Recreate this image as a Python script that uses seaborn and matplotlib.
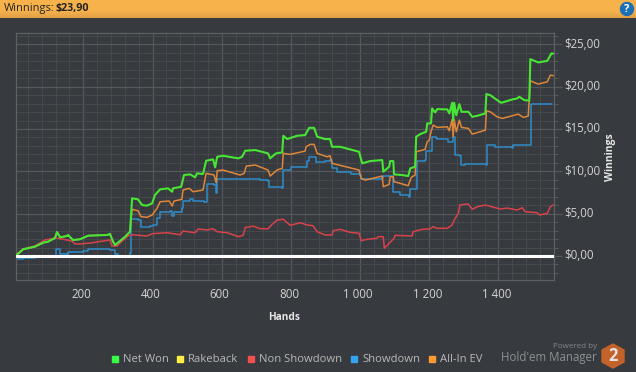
import numpy as np
import pandas as pd
import seaborn as sns
import matplotlib
matplotlib.use('Agg')
import matplotlib.pyplot as plt
from matplotlib.patches import Rectangle, Polygon, Circle
from matplotlib.transforms import ScaledTranslation

# values (hands, dollars)
won_hands = [4,11,26,60,84,98,118,124,133,153,156,170,190,214,269,277,286,292,321,335,341,358,370,384,399,407,422,445,457,459,483,491,509,523,529,546,555,575,581,587,604,648,659,668,697,734,740,757,775,778,789,818,841,853,867,876,899,913,919,942,997,1006,1029,1064,1067,1084,1087,1096,1098,1122,1139,1145,1159,1162,1174,1191,1194,1205,1208,1217,1223,1252,1258,1266,1269,1272,1278,1287,1293,1313,1324,1339,1362,1365,1376,1396,1408,1440,1454,1460,1475,1489,1492,1515,1541,1553,1558]
won_vals = [0,.24,.79,1.10,1.57,1.69,2.12,2.83,2.21,2.36,2.48,1.89,1.97,2.40,2.48,2.60,1.69,1.30,2.28,2.87,6.81,6.69,6.02,5.94,6.22,7.20,7.87,7.99,7.59,7.99,8.18,9.56,9.64,9.29,9.76,9.68,11.25,11.41,10.47,11.72,11.84,11.53,11.72,12.43,12.51,12.12,11.53,12.12,12.24,14.20,13.81,14.20,14.28,15.14,15.14,14.08,13.81,13.81,12.90,12.90,12.31,10.94,11.21,11.33,9.95,10.54,11.21,11.21,9.64,9.56,9.44,10.35,10.54,14.08,14.40,14.67,15.66,15.66,17.43,16.96,17.35,17.31,16.84,18.09,16.05,18.09,16.64,17.94,17.03,17.03,16.44,16.56,16.84,19.12,19.0,18.41,18.09,18.49,18.61,18.80,18.41,18.35,23.25,22.86,23.05,23.92,23.90]

rake_hands = [4,1558]
rake_vals = [0,0]

nonsd_hands = [4,11,26,60,89,104,124,167,176,190,219,277,283,298,312,329,341,384,399,442,480,488,523,532,558,575,587,616,648,662,668,691,711,734,746,760,778,798,827,847,864,876,899,919,922,942,971,997,1003,1020,1049,1052,1067,1070,1084,1098,1101,1150,1153,1179,1202,1211,1223,1252,1266,1272,1284,1289,1313,1324,1339,1362,1405,1425,1454,1469,1477,1512,1518,1541,1550,1558]
nonsd_vals = [0,.35,.83,1.18,1.89,2.0,2.12,1.77,1.42,1.42,1.53,1.89,1.18,1.18,1.77,2.36,2.51,2.36,2.63,2.75,2.51,2.95,2.75,3.19,3.07,3.22,2.87,2.75,2.28,2.44,3.34,3.54,3.22,3.22,3.74,4.25,4.33,3.62,3.93,3.66,3.58,2.87,2.48,2.48,2.99,3.15,2.80,2.68,1.81,1.97,2.09,2.28,2.28,.91,1.50,2.09,2.44,2.36,2.87,3.15,3.19,3.46,3.27,3.27,3.66,4.25,5.04,6.05,6.14,5.51,5.82,6.02,5.55,5.66,5.43,5.70,5.23,5.11,4.84,5.04,5.82,6.02]

sd_hands = [4,11,26,60,118,121,133,153,156,185,199,214,240,277,292,301,335,338,358,367,373,393,402,413,422,451,457,462,485,488,509,517,549,558,578,584,587,711,734,737,775,778,798,801,841,847,853,870,873,899,913,919,934,971,974,1000,1003,1064,1067,1093,1096,1116,1142,1145,1162,1165,1188,1191,1202,1208,1220,1223,1252,1255,1266,1269,1272,1275,1289,1293,1304,1365,1366,1391,1440,1443,1489,1495,1556]
sd_vals = [0,-.39,-.20,-.15,-.15,.79,.24,.08,.44,.51,.59,.86,.79,.67,.20,.04,.32,4.33,4.25,3.46,3.46,3.54,3.66,4.45,5.23,5.31,4.72,5.23,5.63,6.49,6.69,6.53,6.41,8.50,8.38,7.47,9.05,8.97,8.89,8.18,8.06,10.15,10.15,10.47,10.47,11.21,11.65,11.65,11.13,11.25,11.33,10.35,9.95,9.88,9.64,9.56,9.09,9.17,9.48,9.48,7.52,7.20,7.0,7.91,7.91,11.25,11.33,12.35,12.35,14.01,13.96,13.77,13.81,13.42,13.49,14.01,14.01,11.92,11.84,10.77,10.86,10.77,13.06,12.83,12.71,13.06,13.10,17.94,17.90]

ev_hands = [4,11,26,60,84,98,118,124,133,153,156,170,190,214,269,277,286,292,321,335,341,358,367,384,399,413,422,448,457,462,485,488,506,517,546,555,578,584,587,604,653,665,671,697,734,740,760,775,778,798,841,844,856,867,876,905,913,919,971,997,1003,1015,1064,1067,1084,1087,1096,1098,1116,1139,1148,1159,1162,1188,1194,1200,1205,1211,1223,1252,1258,1266,1269,1272,1278,1287,1293,1313,1324,1347,1362,1365,1376,1396,1411,1440,1457,1472,1486,1492,1515,1541,1550,1558]
ev_vals = [0,.24,.79,1.10,1.57,1.69,2.12,2.83,2.21,2.36,2.48,1.89,1.97,2.40,2.48,2.60,1.69,1.30,2.28,2.87,5.51,5.35,4.64,4.57,4.84,5.63,6.41,6.49,5.90,6.49,6.69,7.79,7.99,7.59,7.79,9.76,9.56,8.65,10.07,10.15,9.56,9.76,10.62,10.74,10.15,9.44,10.15,10.35,12.12,12.0,12.39,12.90,13.18,13.18,12.12,11.72,11.84,10.94,10.42,10.15,9.17,8.97,9.44,8.18,8.46,9.36,9.36,8.77,8.58,8.30,9.29,9.56,12.31,12.59,13.49,13.69,14.67,15.46,15.19,15.26,14.79,16.13,14.08,16.13,14.67,16.05,15.19,15.07,14.40,14.67,14.87,17.15,17.03,16.44,16.25,16.56,16.76,16.37,16.52,20.69,20.30,20.57,21.36,21.30]

x_ticks = [200,400,600,800,1000,1200,1400]
x_labels = ['200','400','600','800','1 000','1 200','1 400']
y_ticks = [0,5,10,15,20,25]
y_labels = ['$0,00','$5,00','$10,00','$15,00','$20,00','$25,00']

BG = '#373a3e'
sns.set_style('dark', {'axes.facecolor': BG, 'figure.facecolor': BG})
plt.rcParams['font.family'] = ['Open Sans', 'DejaVu Sans']

W, H = 636, 372
fig = plt.figure(figsize=(W/100, H/100), dpi=100)
ax = fig.add_axes([15.5/W, (H-280.3)/H, 538/W, 247/H])

# only showdown is a real staircase at this scale
lines = [
    (sd_hands, sd_vals, '#2f8cc9', 1.1, 'steps-post'),
    (nonsd_hands, nonsd_vals, '#d8424b', 1.1, 'default'),
    (ev_hands, ev_vals, '#df873a', 1.1, 'default'),
    (won_hands, won_vals, '#48e634', 1.5, 'default'),
    (rake_hands, rake_vals, '#f5e642', 1.1, 'default'),
]
for hands, vals, col, lw, ds in lines:
    df = pd.DataFrame({'hands': hands, 'vals': vals})
    sns.lineplot(data=df, x='hands', y='vals', color=col, lw=lw, ax=ax,
                 drawstyle=ds, estimator=None, sort=False, zorder=3)

ax.axhline(0, color='white', lw=2.2, zorder=4)

ax.set_xlim(4, 1559)
ax.set_ylim(-2.87, 26.3)
ax.set_xticks(x_ticks)
ax.set_xticklabels(x_labels)
ax.set_xticks(np.arange(40, 1559, 40), minor=True)
ax.yaxis.tick_right()
ax.set_yticks(y_ticks)
ax.set_yticklabels(y_labels)
ax.set_yticks(np.arange(-2, 27, 1), minor=True)
ax.grid(True, which='major', color='#56595c', lw=0.9, zorder=1)
ax.grid(True, which='minor', color='#46494c', lw=0.8, zorder=0)
ax.set_axisbelow(True)
ax.tick_params(axis='x', which='major', length=0, pad=5.5, labelsize=8.3, labelcolor='#d4d4d4')
ax.tick_params(axis='x', which='minor', length=3, width=0.8, color='#56595c')
ax.tick_params(axis='y', which='major', length=5.5, width=0.9, color='#56595c', pad=2,
               labelsize=8.3, labelcolor='#d4d4d4', right=True, left=False)
ax.tick_params(axis='y', which='minor', length=3, width=0.8, color='#56595c', right=True, left=False)
# labels sit a little off their ticks in the original
for t in ax.get_xticklabels():
    t.set_transform(t.get_transform() + ScaledTranslation(-2/100, 0, fig.dpi_scale_trans))
for t in ax.get_yticklabels():
    t.set_transform(t.get_transform() + ScaledTranslation(0, 1.5/100, fig.dpi_scale_trans))
for s in ax.spines.values():
    s.set_color('#5e6164')
    s.set_linewidth(0.9)
ax.set_xlabel('')
ax.set_ylabel('')

# everything outside the plot, in pixel coordinates
ov = fig.add_axes([0, 0, 1, 1], zorder=5)
ov.axis('off')
ov.patch.set_alpha(0)

grad = np.linspace(0, 1, 18).reshape(-1, 1, 1)
top = np.array([0.97, 0.70, 0.30]).reshape(1, 1, 3)
bot = np.array([0.89, 0.63, 0.27]).reshape(1, 1, 3)
ramp = top + (bot - top) * np.clip((grad - 0.6) / 0.4, 0, 1)
ov.imshow(ramp, extent=[0, W, 18, 0], aspect='auto', zorder=1)
ov.set_xlim(0, W)
ov.set_ylim(H, 0)

ov.text(4, 8.5, 'Winnings:', color='#222222', fontsize=7.9, va='center')
ov.text(55, 8.5, '$23,90', color='#222222', fontsize=7.7, fontweight='bold', va='center')

ov.add_patch(Circle((627, 9), 6.5, color='#1b6fb5', zorder=2))
ov.text(627, 9, '?', color='white', fontsize=8, fontweight='bold', ha='center', va='center', zorder=3)

ov.text(284, 317, 'Hands', color='#e6e6e6', fontsize=7.3, fontweight='bold', ha='center', va='center')
ov.text(611, 157, 'Winnings', color='#e6e6e6', fontsize=7.5, fontweight='bold', rotation=90, ha='center', va='center')

legend = [
    (112, 123, '#33ff44', 'Net Won'),
    (177, 188, '#ffee44', 'Rakeback'),
    (248, 259, '#f25050', 'Non Showdown'),
    (351, 362, '#33a5ee', 'Showdown'),
    (429, 440, '#ff9a33', 'All-In EV'),
]
for sx, tx, col, name in legend:
    ov.add_patch(Rectangle((sx, 356), 6, 6, color=col, zorder=2))
    ov.text(tx, 359, name, color='#b8b8b8', fontsize=8.1, va='center')

ov.text(597, 346.5, 'Powered by', color='#85888b', fontsize=5.8, ha='right', va='center')
ov.text(597, 357.5, "Hold'em Manager", color='#8d9093', fontsize=8.3, ha='right', va='center')
ov.add_patch(Polygon([(613, 344), (624, 350), (624, 362), (613, 368), (602, 362), (602, 350)],
                     closed=True, color='#c5622a', zorder=2))
ov.text(613, 356, '2', color='#e4e4e4', fontsize=12, fontweight='bold', ha='center', va='center', zorder=3)

fig.savefig('out.png', dpi=100, facecolor=BG)
